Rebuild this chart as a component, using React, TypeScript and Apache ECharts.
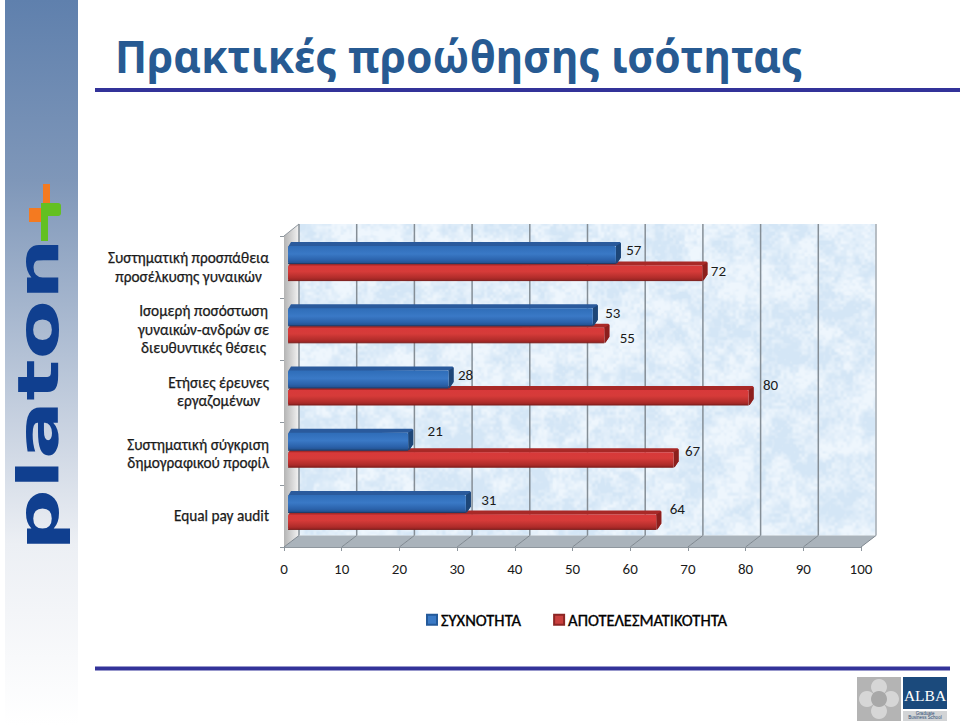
import React, { useEffect, useRef } from "react";
import * as echarts from "echarts";

const titleText = "Πρακτικές προώθησης ισότητας";
const categories = [
  "Συστηματική προσπάθεια\nπροσέλκυσης γυναικών",
  "Ισομερή ποσόστωση\nγυναικών-ανδρών σε\nδιευθυντικές θέσεις",
  "Ετήσιες έρευνες\nεργαζομένων",
  "Συστηματική σύγκριση\nδημογραφικού προφίλ",
  "Equal pay audit",
];
const frequency = [57, 53, 28, 21, 31];
const effectiveness = [72, 55, 80, 67, 64];
const frequencyName = "ΣΥΧΝΟΤΗΤΑ";
const effectivenessName = "ΑΠΟΤΕΛΕΣΜΑΤΙΚΟΤΗΤΑ";
const wallTicks = [0, 10, 20, 30, 40, 50, 60, 70, 80, 90];
// Hand-placed data label offsets from each bar's end, as in the source slide
const frequencyLabelOffsets = [[13, -17], [15, -16], [12, -17], [22, -23], [18, -16]];
const effectivenessLabelOffsets = [[11, 4], [18, 9], [17, -7], [14, -3], [16, -7]];

const FONT = "Carlito, Lato, 'Open Sans', 'Noto Sans', sans-serif";
const GRID = { left: 284, top: 236, width: 577, height: 311 };
const DX = 15;
const DY = 11.5;
const DEPTH = 5;

function wallTexture(): string {
  const w = 577;
  const h = 312;
  const c = document.createElement("canvas");
  c.width = w;
  c.height = h;
  const ctx = c.getContext("2d");
  if (!ctx) return "";
  const hash = (x: number, y: number) => {
    const s = Math.sin(x * 127.1 + y * 311.7) * 43758.5453;
    return s - Math.floor(s);
  };
  const noise = (x: number, y: number) => {
    const xi = Math.floor(x);
    const yi = Math.floor(y);
    const fx = x - xi;
    const fy = y - yi;
    const u = fx * fx * (3 - 2 * fx);
    const v = fy * fy * (3 - 2 * fy);
    const a = hash(xi, yi) * (1 - u) + hash(xi + 1, yi) * u;
    const b = hash(xi, yi + 1) * (1 - u) + hash(xi + 1, yi + 1) * u;
    return a * (1 - v) + b * v;
  };
  const img = ctx.createImageData(w, h);
  for (let y = 0; y < h; y++) {
    for (let x = 0; x < w; x++) {
      const n =
        noise(x / 22, y / 22) * 0.4 + noise(x / 9, y / 9) * 0.3 + noise(x / 3, y / 3) * 0.3;
      const t = Math.min(1, Math.max(0, (n - 0.3) / 0.4));
      const i = (y * w + x) * 4;
      img.data[i] = 212 + t * 26;
      img.data[i + 1] = 230 + t * 16;
      img.data[i + 2] = 246 + t * 7;
      img.data[i + 3] = 255;
    }
  }
  ctx.putImageData(img, 0, 0);
  return c.toDataURL("image/png");
}

function barRenderer(
  frontTop: number,
  frontBottom: number,
  lip: number,
  front: any,
  topColor: string,
  sideColor: string,
  edge: string,
  offsets: number[][]
) {
  return (params: any, api: any) => {
    const value = api.value(0);
    const idx = api.value(1);
    const [xEnd, c] = api.coord([value, idx]);
    const [xStart] = api.coord([0, idx]);
    const x0 = xStart + 4;
    const x1 = xEnd + 3;
    const yT = c + frontTop;
    const yB = c + frontBottom;
    const off = offsets[params.dataIndex];
    return {
      type: "group",
      children: [
        {
          type: "polygon",
          shape: {
            points: [
              [x0, yT + 1],
              [x0 + 3, yT - lip],
              [x1 + DEPTH - 1, yT - lip],
              [x1 + DEPTH, yT - lip + 1],
              [x1 + DEPTH, yB - lip - 2],
              [x1 + 1, yB],
              [x1, yT],
            ],
          },
          style: { fill: topColor },
        },
        {
          type: "polygon",
          shape: {
            points: [
              [x1, yT],
              [x1 + DEPTH, yT - lip + 1],
              [x1 + DEPTH, yB - lip - 2],
              [x1 + 1, yB],
              [x1, yB],
            ],
          },
          style: { fill: sideColor },
        },
        {
          type: "rect",
          shape: { x: x0, y: yT, width: x1 - x0, height: yB - yT, r: 1.5 },
          style: { fill: front },
        },
        {
          type: "line",
          shape: { x1: x0, y1: yB, x2: x1, y2: yB },
          style: { stroke: edge, lineWidth: 1 },
        },
        {
          type: "text",
          style: {
            text: String(value),
            x: x1 + DEPTH + off[0],
            y: c + off[1],
            align: "center",
            verticalAlign: "middle",
            font: `15px ${FONT}`,
            fill: "#1a1a1a",
          },
        },
      ],
    };
  };
}

const vGrad = (stops: [number, string][]) =>
  new echarts.graphic.LinearGradient(
    0,
    0,
    0,
    1,
    stops.map(([offset, color]) => ({ offset, color }))
  );

export default function App() {
  const ref = useRef<HTMLDivElement>(null);
  useEffect(() => {
    if (!ref.current) return;
    const chart = echarts.init(ref.current, undefined, { renderer: "svg" });
    const texture = wallTexture();

    const wallItem = (params: any, api: any) => {
      const tick = api.value(0);
      const [x] = api.coord([tick, 0]);
      const [xNext] = api.coord([tick + 10, 0]);
      const yFront = GRID.top + GRID.height;
      const wallTop = GRID.top - 12;
      const wallBottom = yFront - DY;
      const children: any[] = [];
      if (params.dataIndex === 0) {
        children.push(
          {
            type: "image",
            style: {
              image: texture,
              x: x + DX,
              y: wallTop,
              width: GRID.width,
              height: wallBottom - wallTop,
            },
          },
          {
            type: "polygon",
            shape: { points: [[x, wallTop + 12], [x + DX, wallTop], [x + DX, wallBottom], [x, yFront]] },
            style: {
              fill: new echarts.graphic.LinearGradient(0, 0, 1, 0, [
                { offset: 0, color: "#b4b4b4" },
                { offset: 1, color: "#f4f4f4" },
              ]),
            },
          },
          {
            type: "line",
            shape: { x1: x, y1: wallTop + 12, x2: x + DX, y2: wallTop },
            style: { stroke: "#8f979e", lineWidth: 1 },
          }
        );
      }
      children.push(
        {
          type: "polygon",
          shape: { points: [[x, yFront], [x + DX, wallBottom], [xNext + DX, wallBottom], [xNext, yFront]] },
          style: { fill: "#aab3bb" },
        },
        {
          type: "line",
          shape: { x1: x, y1: yFront, x2: x + DX, y2: wallBottom },
          style: { stroke: "#7f8890", lineWidth: 1 },
        },
        {
          type: "line",
          shape: { x1: x + DX, y1: wallTop, x2: x + DX, y2: wallBottom },
          style: { stroke: "#858e96", lineWidth: 1.5 },
        }
      );
      if (params.dataIndex === wallTicks.length - 1) {
        children.push(
          {
            type: "line",
            shape: { x1: xNext, y1: yFront, x2: xNext + DX, y2: wallBottom },
            style: { stroke: "#7f8890", lineWidth: 1 },
          },
          {
            type: "line",
            shape: { x1: xNext + DX, y1: wallTop, x2: xNext + DX, y2: wallBottom },
            style: { stroke: "#a0a8b0", lineWidth: 1.5 },
          }
        );
      }
      return { type: "group", children };
    };

    const blueFront = vGrad([
      [0, "#2f6db8"],
      [0.45, "#3a79c6"],
      [0.8, "#2b62ab"],
      [1, "#234f8c"],
    ]);
    const redFront = vGrad([
      [0, "#d8393a"],
      [0.4, "#d63b39"],
      [0.8, "#b22d2b"],
      [1, "#932322"],
    ]);

    chart.setOption({
      animation: false,
      backgroundColor: "#ffffff",
      grid: { ...GRID, containLabel: false },
      legend: {
        left: 426,
        top: 611,
        padding: 0,
        itemWidth: 10,
        itemHeight: 10,
        itemGap: 32,
        icon: "rect",
        data: [frequencyName, effectivenessName],
        textStyle: {
          fontFamily: FONT,
          fontSize: 16.5,
          color: "#000",
          textBorderColor: "#000",
          textBorderWidth: 0.35,
          padding: [0, 0, 0, -1],
        },
      },
      xAxis: {
        type: "value",
        min: 0,
        max: 100,
        interval: 10,
        splitLine: { show: false },
        axisLine: { show: true, lineStyle: { color: "#8f979e" } },
        axisTick: { show: true, length: 4, lineStyle: { color: "#8f979e" } },
        axisLabel: { margin: 14, fontFamily: FONT, fontSize: 15, color: "#1a1a1a" },
      },
      yAxis: {
        type: "category",
        inverse: true,
        data: categories,
        splitLine: { show: false },
        axisLine: { show: true, lineStyle: { color: "#8f979e" } },
        axisTick: { show: true, length: 4, lineStyle: { color: "#8f979e" } },
        axisLabel: {
          margin: 15,
          align: "right",
          formatter: (v: string) =>
            v.split("\n").map((line) => `{c|${line}}`).join("\n"),
          rich: {
            c: {
              align: "center",
              fontFamily: FONT,
              fontSize: 15.3,
              lineHeight: 18.5,
              color: "#1a1a1a",
              textBorderColor: "#1a1a1a",
              textBorderWidth: 0.25,
            },
          },
        },
      },
      series: [
        {
          name: "wall",
          type: "custom",
          z: 1,
          silent: true,
          renderItem: wallItem,
          encode: { x: 0 },
          data: wallTicks.map((t) => [t]),
        },
        {
          name: effectivenessName,
          type: "custom",
          z: 3,
          itemStyle: { color: "#c9403e", borderColor: "#8c2624", borderWidth: 1 },
          renderItem: barRenderer(-1.5, 13.5, 4, redFront, "#a82927", "#8c1f1d", "#7d1c1a", effectivenessLabelOffsets),
          encode: { x: 0, y: 1 },
          data: effectiveness.map((v, i) => [v, i]),
        },
        {
          name: frequencyName,
          type: "custom",
          z: 4,
          itemStyle: { color: "#3a7ac6", borderColor: "#245a9a", borderWidth: 1 },
          renderItem: barRenderer(-21, -3.5, 4, blueFront, "#2a5a9c", "#1d4678", "#1a3d6c", frequencyLabelOffsets),
          encode: { x: 0, y: 1 },
          data: frequency.map((v, i) => [v, i]),
        },
      ],
      graphic: [
        {
          type: "rect",
          z: 0,
          silent: true,
          shape: { x: 5, y: 0, width: 73, height: 725 },
          style: {
            fill: new echarts.graphic.LinearGradient(0, 0, 0, 1, [
              { offset: 0, color: "#5f80ad" },
              { offset: 0.25, color: "#7f97b9" },
              { offset: 0.75, color: "#eceff4" },
              { offset: 1, color: "#ffffff" },
            ]),
          },
        },
        {
          type: "text",
          z: 5,
          x: 38,
          y: 551,
          rotation: Math.PI / 2,
          scaleX: 1.52,
          style: {
            text: "platon",
            align: "left",
            verticalAlign: "middle",
            font: "bold 57px 'DejaVu Sans', sans-serif",
            fill: "#103f8f",
          },
        },
        { type: "rect", z: 5, shape: { x: 29, y: 208, width: 16, height: 14 }, style: { fill: "#f47a20" } },
        { type: "rect", z: 5, shape: { x: 43, y: 184, width: 7, height: 26 }, style: { fill: "#f47a20" } },
        { type: "rect", z: 6, shape: { x: 41, y: 203, width: 20, height: 13, r: 3 }, style: { fill: "#63c021" } },
        { type: "rect", z: 6, shape: { x: 41, y: 203, width: 7, height: 38 }, style: { fill: "#63c021" } },
        {
          type: "text",
          z: 5,
          x: 115,
          y: 56,
          scaleX: 0.966,
          style: {
            text: titleText,
            align: "left",
            verticalAlign: "middle",
            font: "bold 44px 'Noto Sans', sans-serif",
            fill: "#275a92",
          },
        },
        { type: "rect", z: 5, shape: { x: 95, y: 88, width: 865, height: 4 }, style: { fill: "#333399" } },
        { type: "rect", z: 5, shape: { x: 95, y: 666.5, width: 855, height: 4 }, style: { fill: "#333399" } },
        { type: "rect", z: 5, shape: { x: 857, y: 677, width: 44, height: 44 }, style: { fill: "#b4b4b4" } },
        { type: "circle", z: 6, shape: { cx: 879, cy: 687, r: 8 }, style: { fill: "#d6d6d6" } },
        { type: "circle", z: 6, shape: { cx: 879, cy: 711, r: 8 }, style: { fill: "#d6d6d6" } },
        { type: "circle", z: 6, shape: { cx: 867, cy: 699, r: 8 }, style: { fill: "#d6d6d6" } },
        { type: "circle", z: 6, shape: { cx: 891, cy: 699, r: 8 }, style: { fill: "#d6d6d6" } },
        { type: "circle", z: 7, shape: { cx: 879, cy: 699, r: 8 }, style: { fill: "#a8a8a8" } },
        { type: "rect", z: 5, shape: { x: 903, y: 677, width: 44, height: 32 }, style: { fill: "#1b4a7c" } },
        {
          type: "text",
          z: 6,
          x: 925,
          y: 695,
          style: {
            text: "ALBA",
            align: "center",
            verticalAlign: "middle",
            font: "15.5px 'Liberation Serif', serif",
            fill: "#ffffff",
          },
        },
        { type: "rect", z: 5, shape: { x: 903, y: 711, width: 44, height: 10 }, style: { fill: "#d2d4d6" } },
        {
          type: "text",
          z: 6,
          x: 925,
          y: 715.5,
          style: {
            text: "Graduate\nBusiness School",
            align: "center",
            verticalAlign: "middle",
            lineHeight: 4.5,
            font: "4.5px 'Liberation Sans', sans-serif",
            fill: "#2a4a70",
          },
        },
      ],
    });
    return () => chart.dispose();
  }, []);
  return (
    <div
      ref={ref}
      style={{ position: "absolute", left: 0, top: 0, width: 960, height: 725, background: "#fff" }}
    />
  );
}
